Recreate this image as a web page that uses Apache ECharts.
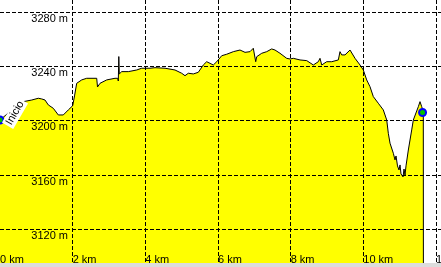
<!DOCTYPE html>
<html>
<head>
<meta charset="utf-8">
<script src="https://cdn.jsdelivr.net/npm/echarts@6/dist/echarts.min.js"></script>
<style>html,body{margin:0;padding:0;background:#fff}#c{width:441px;height:267px}</style>
</head>
<body>
<div id="c"></div>
<script>
var distKm = [0,0.165,0.33,0.495,0.641,0.873,1.054,1.148,1.239,1.329,1.467,1.605,1.742,1.880,2.001,2.051,2.111,2.249,2.386,2.662,2.684,2.753,2.937,3.165,3.240,3.256,3.270,3.284,3.350,3.531,3.763,3.900,4.129,4.266,4.542,4.817,5.001,5.092,5.183,5.321,5.458,5.596,5.689,5.780,5.871,5.965,6.102,6.240,6.422,6.606,6.744,6.881,6.972,7.000,7.038,7.066,7.203,7.341,7.478,7.569,7.707,7.891,7.982,8.073,8.258,8.442,8.624,8.761,8.808,8.855,8.992,9.130,9.312,9.358,9.405,9.496,9.634,9.771,9.909,10.000,10.093,10.184,10.275,10.413,10.550,10.644,10.688,10.735,10.826,10.872,10.900,10.941,10.982,11.010,11.037,11.093,11.120,11.148,11.175,11.239,11.332,11.376,11.514,11.560,11.607,11.651,11.654];
var elevM = [3200.5,3204.2,3208.6,3211.6,3214.0,3215.2,3216.5,3216.0,3215.2,3211.6,3209.1,3204.2,3204.2,3207.9,3211.0,3218.2,3227.5,3230.0,3231.2,3231.2,3224.8,3227.5,3230.0,3231.2,3231.2,3229.2,3247.2,3234.4,3236.1,3236.1,3237.3,3238.6,3238.6,3239.0,3238.6,3237.3,3234.9,3233.1,3234.9,3234.4,3235.6,3241.0,3243.4,3242.2,3241.0,3243.4,3247.8,3248.9,3250.8,3252.0,3250.3,3250.8,3253.3,3254.5,3243.4,3247.1,3249.6,3250.8,3252.8,3252.0,3249.6,3245.9,3245.4,3245.9,3244.7,3244.2,3241.0,3243.4,3245.9,3241.0,3243.4,3243.4,3244.7,3250.8,3248.4,3248.4,3252.0,3245.9,3241.0,3237.3,3230.0,3225.0,3217.7,3212.8,3207.9,3200.5,3190.7,3183.4,3176.0,3171.1,3174.0,3166.7,3163.7,3167.4,3160.8,3158.6,3164.4,3160.0,3166.7,3178.4,3193.2,3200.5,3210.3,3214.0,3210.3,3206.6,3080];
var startPoint = [0, 3200.5];
var endPoint = [11.63, 3206.0];
var startLabel = 'Inicio';

var profile = distKm.map(function (d, i) { return [d, elevM[i]]; });

var chart = echarts.init(document.getElementById('c'), null, {renderer: 'canvas'});
var gridLine = {show: true, lineStyle: {color: '#000', width: 1, type: [4, 2]}};
chart.setOption({
  animation: false,
  backgroundColor: '#fff',
  grid: {left: 0, right: 0, top: 0, bottom: -16.67, containLabel: false, outerBoundsMode: 'none'},
  xAxis: {
    type: 'value', min: 0, max: 12.138, interval: 2, z: 10,
    axisLine: {show: false}, axisTick: {show: false},
    splitLine: Object.assign({showMinLine: false, showMaxLine: false}, gridLine),
    axisLabel: {
      inside: true, margin: 18, align: 'left', verticalAlign: 'bottom',
      color: '#000', fontFamily: 'Liberation Sans, Arial, sans-serif', fontSize: 11,
      formatter: function (v) { return v + ' km'; },
      showMinLabel: true, showMaxLabel: false, hideOverlap: false
    }
  },
  yAxis: {
    type: 'value', min: 3080, max: 3288.83, interval: 40, z: 10,
    axisLine: {show: false}, axisTick: {show: false},
    splitLine: Object.assign({showMaxLine: false}, gridLine),
    axisLabel: {
      inside: true, margin: 68, align: 'right', verticalAlign: 'top',
      padding: [1, 0, 0, 0], showMaxLabel: false,
      color: '#000', fontFamily: 'Liberation Sans, Arial, sans-serif', fontSize: 11,
      formatter: function (v) { return v + ' m'; }
    }
  },
  series: [
    {
      type: 'line', data: profile, symbol: 'none', z: 2,
      lineStyle: {color: '#000', width: 1},
      areaStyle: {color: '#ffff00', opacity: 1}
    },
    {
      type: 'scatter', data: [startPoint, endPoint], z: 20,
      symbol: 'circle', symbolSize: 7,
      itemStyle: {color: '#00c000', borderColor: '#0000ff', borderWidth: 2, opacity: 1}
    }
  ],
  graphic: [
    {
      type: 'text', x: 15, y: 113, rotation: Math.PI / 3, z: 30,
      style: {
        text: startLabel, x: 0, y: 0, align: 'center', verticalAlign: 'middle',
        font: '11px Liberation Sans, Arial, sans-serif', fill: '#000',
        backgroundColor: '#fff', padding: [1, 2]
      }
    },
    {
      type: 'rect', z: 40, shape: {x: 0, y: 263, width: 441, height: 4},
      style: {fill: '#dcdcdc'}
    }
  ]
});
</script>
</body>
</html>
